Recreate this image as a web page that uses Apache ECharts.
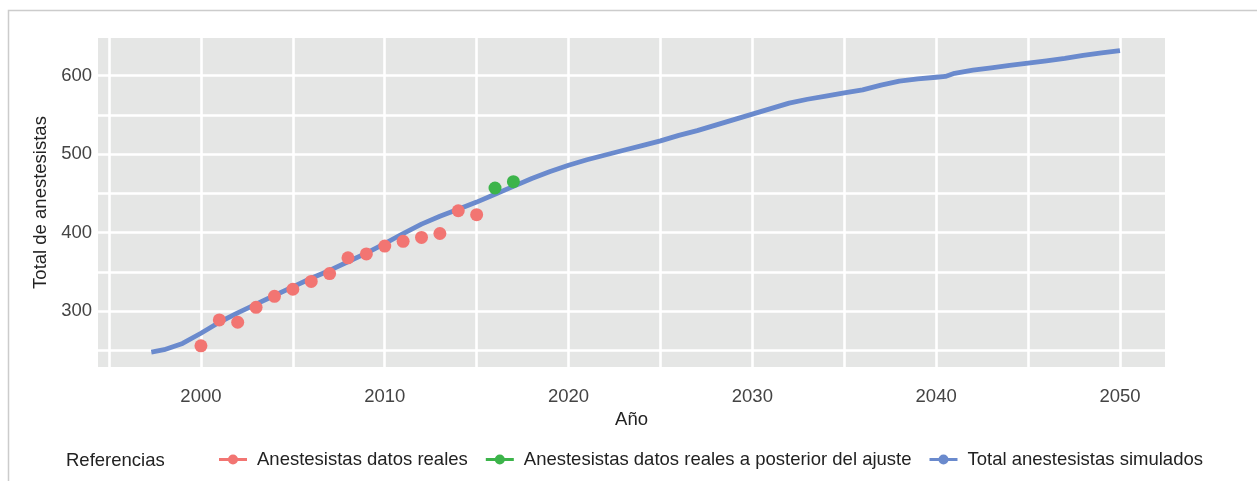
<!DOCTYPE html>
<html>
<head>
<meta charset="utf-8">
<script src="https://cdn.jsdelivr.net/npm/echarts@6/dist/echarts.min.js"></script>
<style>
  html, body { margin: 0; padding: 0; background: #fff; }
  #chart { width: 1257px; height: 481px; }
</style>
</head>
<body>
<div id="chart"></div>
<script>
// simulated total (blue line)
const simYears = [1997.3, 1998, 1999, 2000, 2001, 2002, 2003, 2004, 2005, 2006, 2007, 2008, 2009,
  2010, 2011, 2012, 2013, 2014, 2015, 2016, 2017, 2018, 2019, 2020, 2021, 2022, 2023, 2024, 2025,
  2026, 2027, 2028, 2029, 2030, 2031, 2032, 2033, 2034, 2035, 2036, 2037, 2038, 2039, 2040, 2040.5,
  2041, 2042, 2043, 2044, 2045, 2046, 2047, 2048, 2049, 2050];
const simValues = [248, 251, 259, 272, 286, 298, 309, 320, 331, 342, 352, 363, 374,
  386, 399, 411, 421, 430, 439, 449, 459, 469, 478, 486, 493, 499, 505, 511, 517,
  524, 530, 537, 544, 551, 558, 565, 570, 574, 578, 582, 588, 593, 596, 598, 599,
  603, 607, 610, 613, 616, 619, 622, 626, 629, 632];

// real data used in the fit (red)
const realYears = [2000, 2001, 2002, 2003, 2004, 2005, 2006, 2007, 2008, 2009, 2010, 2011, 2012, 2013, 2014, 2015];
const realValues = [256, 289, 286, 305, 319, 328, 338, 348, 368, 373, 383, 389, 394, 399, 428, 423];

// real data after the fit (green)
const postYears = [2016, 2017];
const postValues = [457, 465];

const xTicks = [2000, 2010, 2020, 2030, 2040, 2050];
const yTicks = [300, 400, 500, 600];
const xGridLines = [1995, 2000, 2005, 2010, 2015, 2020, 2025, 2030, 2035, 2040, 2045, 2050];
const yGridLines = [250, 300, 350, 400, 450, 500, 550, 600];

const seriesNames = [
  "Anestesistas datos reales",
  "Anestesistas datos reales a posterior del ajuste",
  "Total anestesistas simulados",
];

const FONT = "Liberation Sans, Arial, sans-serif";
const legendIcon = "path://M0,3.6h28v2.8H0z M14,0a5,5 0 1,1 -0.01,0z";

const chart = echarts.init(document.getElementById("chart"), null, { renderer: "canvas" });

chart.setOption({
  animation: false,
  backgroundColor: "#ffffff",
  textStyle: { fontFamily: FONT },
  grid: {
    left: 98,
    right: 92,
    top: 38,
    bottom: 114,
    show: true,
    backgroundColor: "#E5E6E5",
    borderWidth: 0,
  },
  xAxis: {
    type: "value",
    min: 1994.4,
    max: 2052.45,
    name: "Año",
    nameLocation: "middle",
    nameGap: 36,
    nameTextStyle: { fontSize: 18.5, color: "#222", fontFamily: FONT },
    axisLine: { show: false },
    axisTick: { show: false },
    splitLine: { show: false },
    axisLabel: {
      customValues: xTicks,
      formatter: v => String(v),
      margin: 20,
      fontSize: 18.5,
      color: "#444",
      fontFamily: FONT,
    },
  },
  yAxis: {
    type: "value",
    min: 229,
    max: 648,
    name: "Total de anestesistas",
    nameLocation: "middle",
    nameGap: 42,
    nameTextStyle: { fontSize: 18.5, color: "#222", fontFamily: FONT },
    axisLine: { show: false },
    axisTick: { show: false },
    splitLine: { show: false },
    axisLabel: {
      customValues: yTicks,
      formatter: v => String(v),
      margin: 6,
      fontSize: 18.5,
      color: "#444",
      fontFamily: FONT,
    },
  },
  legend: {
    left: 219,
    top: 450,
    padding: 0,
    itemGap: 18,
    itemWidth: 28,
    itemHeight: 10,
    icon: legendIcon,
    data: seriesNames,
    textStyle: { fontSize: 18.5, color: "#222", fontFamily: FONT, padding: [0, 0, 0, 5] },
  },
  graphic: [
    {
      type: "rect",
      silent: true,
      z: 0,
      shape: { x: 8.5, y: 10.5, width: 1400, height: 600 },
      style: { fill: "none", stroke: "#cccccc", lineWidth: 1.5 },
    },
    {
      type: "text",
      x: 66,
      y: 461,
      silent: true,
      style: { text: "Referencias", fontSize: 18.5, fill: "#222", fontFamily: FONT, verticalAlign: "middle" },
    },
  ],
  series: [
    {
      // white panel grid lines, kept under the marks
      type: "line",
      data: [],
      z: 1,
      silent: true,
      markLine: {
        z: 1,
        silent: true,
        symbol: ["none", "none"],
        label: { show: false },
        emphasis: { disabled: true },
        lineStyle: { color: "#ffffff", width: 2.6, type: "solid" },
        data: xGridLines.map(v => ({ xAxis: v })).concat(yGridLines.map(v => ({ yAxis: v }))),
      },
    },
    {
      name: seriesNames[2],
      type: "line",
      z: 6,
      data: simYears.map((y, i) => [y, simValues[i]]),
      showSymbol: false,
      symbol: "none",
      lineStyle: { color: "#6A8ACD", width: 4.8 },
      itemStyle: { color: "#6A8ACD" },
      emphasis: { disabled: true },
    },
    {
      name: seriesNames[0],
      type: "scatter",
      z: 7,
      data: realYears.map((y, i) => [y, realValues[i]]),
      symbol: "circle",
      symbolSize: 13,
      itemStyle: { color: "#F27572", opacity: 1 },
      emphasis: { disabled: true },
    },
    {
      name: seriesNames[1],
      type: "scatter",
      z: 7,
      data: postYears.map((y, i) => [y, postValues[i]]),
      symbol: "circle",
      symbolSize: 13,
      itemStyle: { color: "#3CB44A", opacity: 1 },
      emphasis: { disabled: true },
    },
  ],
});
</script>
</body>
</html>
